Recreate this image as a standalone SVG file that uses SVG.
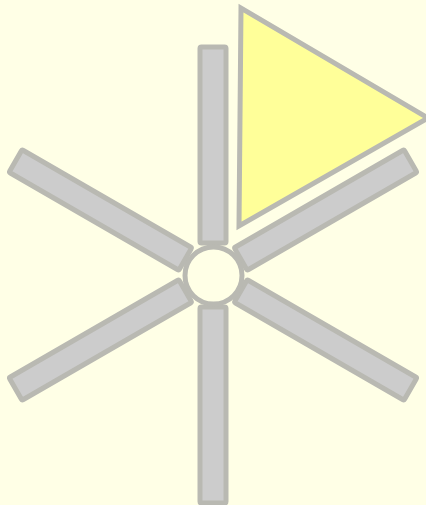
<svg xmlns="http://www.w3.org/2000/svg" width="426" height="505" viewBox="0 0 426 505">
<style>
.bar{fill:#cccccc;stroke:#b9b9b2;stroke-width:5}
.hub{fill:#ffffe6;stroke:#b9b9b2;stroke-width:5}
.flag{fill:#ffff99;stroke:#b9b9b2;stroke-width:5;stroke-linejoin:miter}
</style>
<defs>
<rect id="spoke" x="200" y="47" width="26" height="196" rx="1.5"/>
</defs>
<rect width="426" height="505" fill="#ffffe6"/>
<g id="spokes">
<g id="spoke-top"><use href="#spoke" class="bar"/></g>
<g id="spoke-upper-right"><use href="#spoke" class="bar" transform="rotate(60 213 275)"/></g>
<g id="spoke-lower-right"><use href="#spoke" class="bar" transform="rotate(120 213 275)"/></g>
<g id="spoke-bottom"><use href="#spoke" class="bar" transform="rotate(180 213 275)"/></g>
<g id="spoke-lower-left"><use href="#spoke" class="bar" transform="rotate(240 213 275)"/></g>
<g id="spoke-upper-left"><use href="#spoke" class="bar" transform="rotate(300 213 275)"/></g>
</g>
<g id="hub"><circle class="hub" cx="213.5" cy="275.5" r="28.5"/></g>
<g id="flag"><polygon class="flag" points="241,8 239,226 428,118"/></g>
</svg>
